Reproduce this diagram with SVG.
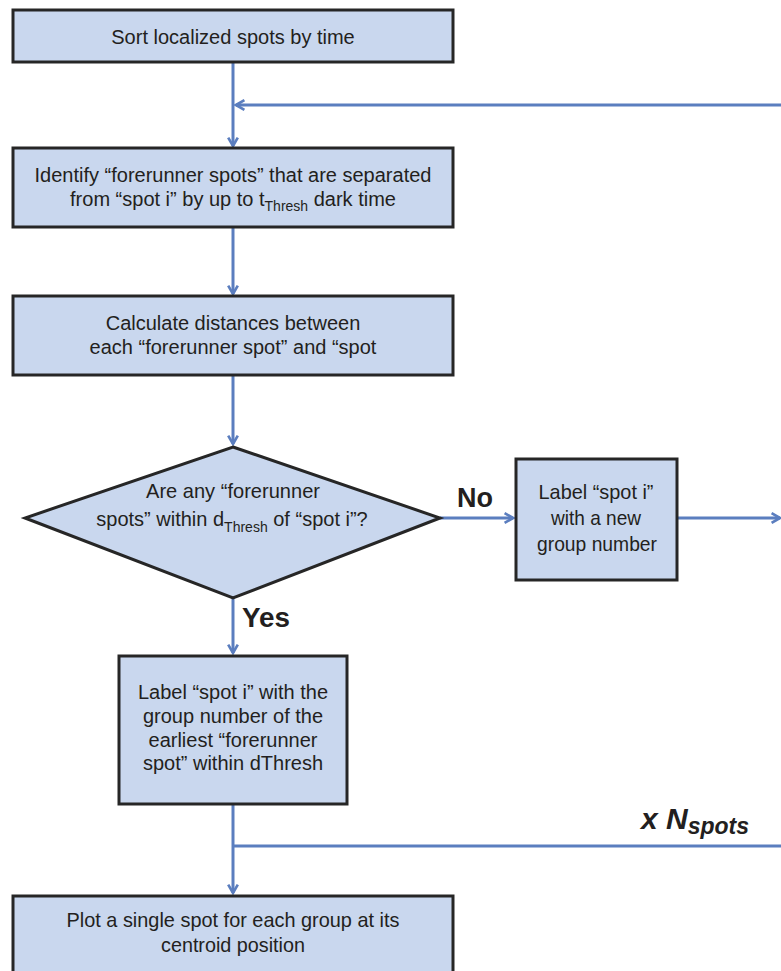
<svg xmlns="http://www.w3.org/2000/svg" width="781" height="971" viewBox="0 0 781 971">
  <defs>
    <style>
      .box { fill: #c9d7ee; stroke: #262626; stroke-width: 3; }
      .txt { font-family: "Liberation Sans", Arial, sans-serif; font-size: 20px; fill: #231f20; text-anchor: middle; }
      .narrow { font-size: 21px; }
      .sub { font-size: 14px; }
      .lbl { font-family: "Liberation Sans", Arial, sans-serif; font-weight: bold; font-size: 27px; fill: #231f20; }
      .rep { font-size: 30px; font-style: italic; }
      .rep-sub { font-size: 23px; }
      .conn { fill: none; stroke: #5b7ebf; stroke-width: 3; }
    </style>
    <marker id="arrow" viewBox="0 0 10 10" refX="8" refY="5" markerWidth="4" markerHeight="4" orient="auto" markerUnits="strokeWidth">
      <path d="M1,1 L8,5 L1,9" fill="none" stroke="#5b7ebf" stroke-width="2.2"/>
    </marker>
  </defs>
  <rect width="781" height="971" fill="#ffffff"/>

  <!-- connectors -->
  <g id="connectors">
    <line class="conn" x1="233" y1="62" x2="233" y2="146" marker-end="url(#arrow)"/>
    <line class="conn" x1="781" y1="105" x2="236" y2="105" marker-end="url(#arrow)"/>
    <line class="conn" x1="233" y1="227" x2="233" y2="294" marker-end="url(#arrow)"/>
    <line class="conn" x1="233" y1="375" x2="233" y2="444" marker-end="url(#arrow)"/>
    <line class="conn" x1="440" y1="518" x2="513" y2="518" marker-end="url(#arrow)"/>
    <line class="conn" x1="677" y1="518" x2="780" y2="518" marker-end="url(#arrow)"/>
    <line class="conn" x1="233" y1="598" x2="233" y2="653" marker-end="url(#arrow)"/>
    <line class="conn" x1="233" y1="804" x2="233" y2="893" marker-end="url(#arrow)"/>
    <line class="conn" x1="233" y1="846" x2="781" y2="846"/>
    <text class="lbl" x="457" y="507" textLength="36" lengthAdjust="spacingAndGlyphs">No</text>
    <text class="lbl" x="242" y="627" textLength="48" lengthAdjust="spacingAndGlyphs">Yes</text>
    <text class="lbl rep" x="641" y="829">x N<tspan class="rep-sub" dy="5">spots</tspan></text>
  </g>

  <g id="sort">
    <rect class="box" x="13" y="10" width="440" height="52"/>
    <text class="txt" x="233" y="44">Sort localized spots by time</text>
  </g>

  <g id="identify">
    <rect class="box" x="13" y="148" width="440" height="79"/>
    <text class="txt" x="233" y="182">Identify “forerunner spots” that are separated</text>
    <text class="txt" x="233" y="206">from “spot i” by up to t<tspan class="sub" dy="5">Thresh</tspan><tspan dy="-5"> dark time</tspan></text>
  </g>

  <g id="calculate">
    <rect class="box" x="13" y="296" width="440" height="79"/>
    <text class="txt" x="233" y="330">Calculate distances between</text>
    <text class="txt" x="233" y="354">each “forerunner spot” and “spot</text>
  </g>

  <g id="decision">
    <polygon class="box" points="233,447 440,518 233,598 25,518"/>
    <text class="txt narrow" x="233" y="498" textLength="174" lengthAdjust="spacingAndGlyphs">Are any “forerunner</text>
    <text class="txt" x="232" y="526">spots” within d<tspan class="sub" dy="6">Thresh</tspan><tspan dy="-6"> of “spot i”?</tspan></text>
  </g>

  <g id="new-group">
    <rect class="box" x="516" y="459" width="161" height="121"/>
    <text class="txt narrow" x="596" y="499" textLength="115" lengthAdjust="spacingAndGlyphs">Label “spot i”</text>
    <text class="txt narrow" x="596" y="525" textLength="90" lengthAdjust="spacingAndGlyphs">with a new</text>
    <text class="txt narrow" x="597" y="551" textLength="120" lengthAdjust="spacingAndGlyphs">group number</text>
  </g>

  <g id="existing-group">
    <rect class="box" x="119" y="656" width="228" height="148"/>
    <text class="txt" x="233" y="699">Label “spot i” with the</text>
    <text class="txt" x="233" y="723">group number of the</text>
    <text class="txt" x="233" y="747">earliest “forerunner</text>
    <text class="txt" x="233" y="770">spot” within dThresh</text>
  </g>

  <g id="plot">
    <rect class="box" x="13" y="896" width="440" height="80"/>
    <text class="txt narrow" x="233" y="927" textLength="333" lengthAdjust="spacingAndGlyphs">Plot a single spot for each group at its</text>
    <text class="txt narrow" x="233" y="952" textLength="144" lengthAdjust="spacingAndGlyphs">centroid position</text>
  </g>
</svg>
